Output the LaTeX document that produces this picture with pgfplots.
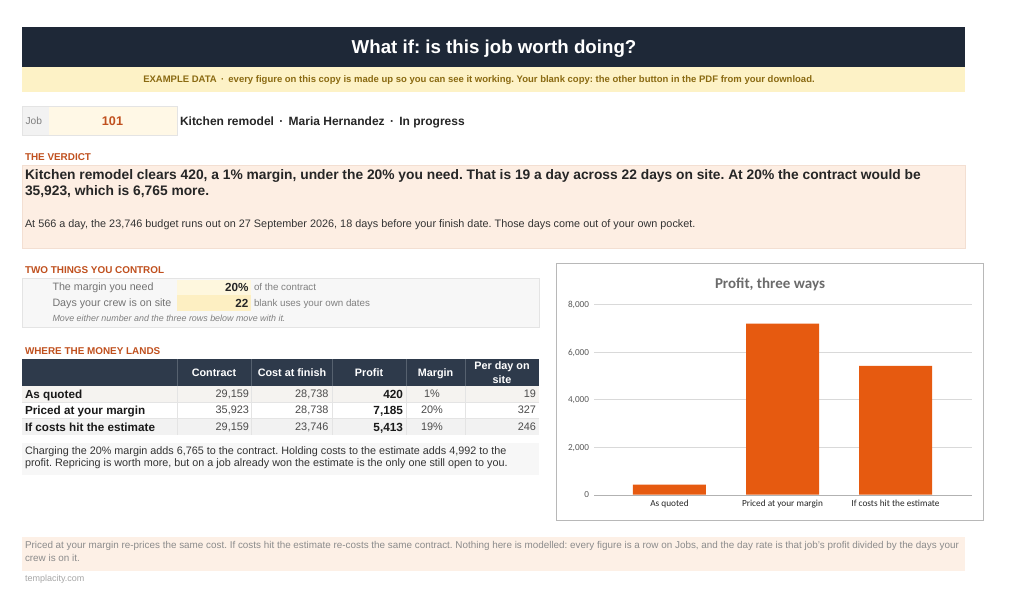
\documentclass[border=0pt]{standalone}
\usepackage{pgfplots}
\pgfplotsset{compat=1.18}
\usepackage{fontspec}
\setmainfont{Liberation Sans}
\newfontfamily\carlito{Carlito}
\frenchspacing

\definecolor{navy}{HTML}{1E2837}
\definecolor{bandyel}{HTML}{FDF2C6}
\definecolor{bandtxt}{HTML}{8A6A12}
\definecolor{jobgrey}{HTML}{F2F2F2}
\definecolor{cream}{HTML}{FFF8E6}
\definecolor{rust}{HTML}{C0501E}
\definecolor{peach}{HTML}{FDEEE3}
\definecolor{peachline}{HTML}{F3DFD2}
\definecolor{boxgrey}{HTML}{F7F7F7}
\definecolor{lineg}{HTML}{E4E4E4}
\definecolor{cellyel}{HTML}{FEF7DE}
\definecolor{cellyel2}{HTML}{FDEFC2}
\definecolor{thead}{HTML}{2E3A4B}
\definecolor{theadline}{HTML}{56616F}
\definecolor{row1}{HTML}{F5F3F0}
\definecolor{row3}{HTML}{F2F2F2}
\definecolor{foot}{HTML}{FDF0E6}
\definecolor{chartgrey}{HTML}{595959}
\definecolor{gridg}{HTML}{D9D9D9}
\definecolor{barorange}{HTML}{E65A10}

\newcommand\fs[1]{\fontsize{#1}{#1}\selectfont}
% one row of the money table: y, label, contract, cost, profit, margin, per day
\newcommand\trow[7]{%
  \node[anchor=west,text=black!90,font=\fs{11.7}\bfseries] at (25,#1) {#2};
  \node[anchor=east,text=black!70,font=\fs{10.9}] at (249,#1) {#3};
  \node[anchor=east,text=black!70,font=\fs{10.9}] at (328.5,#1) {#4};
  \node[anchor=east,text=black!90,font=\fs{11.8}\bfseries] at (403,#1) {#5};
  \node[text=black!70,font=\fs{10.9}] at (432,#1) {#6};
  \node[anchor=east,text=black!70,font=\fs{10.9}] at (536,#1) {#7};
}

\begin{document}
\begin{tikzpicture}[x=1pt,y=-1pt,every node/.style={inner sep=0pt,outer sep=0pt,text depth=0pt}]
\fill[white] (0,0) rectangle (1024,599);

% title bar and example band
\fill[navy] (22,27) rectangle (965,67);
\node[white,font=\fs{18.7}\bfseries] at (494,47) {What if: is this job worth doing?};
\fill[bandyel] (22,67) rectangle (965,92);
\node[text=bandtxt,font=\fs{9.5}\bfseries] at (479,79.5) {EXAMPLE DATA \,·\, every figure on this copy is made up so you can see it working. Your blank copy: the other button in the PDF from your download.};

% job line
\fill[jobgrey] (22,106) rectangle (49,135);
\fill[cream] (49,106) rectangle (177,135);
\draw[lineg] (22,106) rectangle (177,135);
\node[anchor=west,text=gray,font=\fs{10.2}] at (25.5,121) {Job};
\node[text=rust,font=\fs{12.6}\bfseries] at (112.5,121) {101};
\node[anchor=west,text=black!85,font=\fs{12}\bfseries] at (180,121) {Kitchen remodel \,·\, Maria Hernandez \,·\, In progress};

% verdict
\node[anchor=west,text=rust,font=\fs{9.9}\bfseries] at (25,157) {THE VERDICT};
\fill[peach] (22,165) rectangle (965,248);
\draw[peachline] (22,165) rectangle (965,248);
\node[anchor=west,text=black!85,font=\fs{13.8}\bfseries] at (25,174) {Kitchen remodel clears 420, a 1\% margin, under the 20\% you need. That is 19 a day across 22 days on site. At 20\% the contract would be};
\node[anchor=west,text=black!85,font=\fs{13.8}\bfseries] at (25,190) {35,923, which is 6,765 more.};
\node[anchor=west,text=black!80,font=\fs{10.85}] at (25,224) {At 566 a day, the 23,746 budget runs out on 27 September 2026, 18 days before your finish date. Those days come out of your own pocket.};

% two things you control
\node[anchor=west,text=rust,font=\fs{9.9}\bfseries] at (25,270) {TWO THINGS YOU CONTROL};
\fill[boxgrey] (22,278) rectangle (539,327);
\draw[lineg] (22,278) rectangle (539,327);
\fill[cellyel] (177,279.5) rectangle (251,295);
\fill[cellyel2] (177,295) rectangle (251,311);
\node[anchor=west,text=black!55,font=\fs{10.7}] at (52.5,287) {The margin you need};
\node[anchor=east,text=black!85,font=\fs{11.7}\bfseries] at (248.5,287) {20\%};
\node[anchor=west,text=black!50,font=\fs{9.8}] at (254,287) {of the contract};
\node[anchor=west,text=black!55,font=\fs{10.7}] at (52.5,303) {Days your crew is on site};
\node[anchor=east,text=black!85,font=\fs{11.7}\bfseries] at (248.5,303) {22};
\node[anchor=west,text=black!50,font=\fs{9.8}] at (254,303) {blank uses your own dates};
\node[anchor=west,text=black!50,font=\fs{8.9}\itshape] at (52.5,318.5) {Move either number and the three rows below move with it.};

% where the money lands
\node[anchor=west,text=rust,font=\fs{9.9}\bfseries] at (25,351) {WHERE THE MONEY LANDS};
\fill[thead] (22,359) rectangle (539,386);
\fill[row1] (22,386) rectangle (539,402);
\fill[white] (22,402) rectangle (539,418.5);
\fill[row3] (22,418.5) rectangle (539,435);
\foreach \xx in {177,251.5,332,406,465} {
  \draw[theadline,line width=0.8pt] (\xx,359) -- (\xx,386);
  \draw[lineg,line width=0.8pt] (\xx,386) -- (\xx,435);
}
\draw[lineg,line width=0.6pt] (22,402) -- (539,402);
\draw[lineg,line width=0.6pt] (22,418.5) -- (539,418.5);
\begin{scope}[every node/.append style={white,font=\fs{10.8}\bfseries}]
\node at (214,372.5) {Contract};
\node at (292,372.5) {Cost at finish};
\node at (369,372.5) {Profit};
\node at (435.5,372.5) {Margin};
\node at (502,366) {Per day on};
\node at (502,379.5) {site};
\end{scope}
\trow{394}{As quoted}{29,159}{28,738}{420}{1\%}{19}
\trow{410}{Priced at your margin}{35,923}{28,738}{7,185}{20\%}{327}
\trow{427}{If costs hit the estimate}{29,159}{23,746}{5,413}{19\%}{246}

% note under table
\fill[boxgrey] (22,443) rectangle (539,475);
\node[anchor=west,text=black!80,font=\fs{10.8}] at (25,450.5) {Charging the 20\% margin adds 6,765 to the contract. Holding costs to the estimate adds 4,992 to the};
\node[anchor=west,text=black!80,font=\fs{10.8}] at (25,463) {profit. Repricing is worth more, but on a job already won the estimate is the only one still open to you.};

% chart frame
\draw[black!28,fill=white] (556,263) rectangle (983,520);
\node[text=black!58,font=\carlito\fs{15}\bfseries] at (770,283) {Profit, three ways};

\begin{axis}[
  at={(594pt,-494.7pt)}, anchor=south west,
  scale only axis, width=378pt, height=190.4pt,
  ymin=0, ymax=8000, xmin=-0.668, xmax=2.677,
  ytick={0,2000,4000,6000,8000},
  xtick={0,1,2},
  xticklabels={As quoted, Priced at your margin, If costs hit the estimate},
  /pgf/number format/assume math mode=true,
  /pgf/number format/1000 sep={,},
  axis x line*=bottom, axis y line*=left,
  x axis line style={draw=black!30,-},
  y axis line style={draw=none},
  major tick length=0pt,
  ymajorgrids, grid style={draw=gridg},
  yticklabel style={font=\carlito\fs{9.2}, text=chartgrey, anchor=east, inner sep=0pt, xshift=-5pt},
  xticklabel style={font=\carlito\fs{9.3}, text=black!85, anchor=north, inner sep=0pt, yshift=-5pt},
]
  % profit by scenario
  \addplot[ybar, bar width=73pt, fill=barorange, draw=none] coordinates {(0,420) (1,7185) (2,5413)};
\end{axis}

% footer note
\fill[foot] (22,537) rectangle (965,571);
\node[anchor=west,text=black!45,font=\fs{9.88}] at (25,545) {Priced at your margin re-prices the same cost. If costs hit the estimate re-costs the same contract. Nothing here is modelled: every figure is a row on Jobs, and the day rate is that job's profit divided by the days your};
\node[anchor=west,text=black!45,font=\fs{9.88}] at (25,557.5) {crew is on it.};
\node[anchor=west,text=black!35,font=\fs{9}] at (25,578) {templacity.com};
\end{tikzpicture}
\end{document}
